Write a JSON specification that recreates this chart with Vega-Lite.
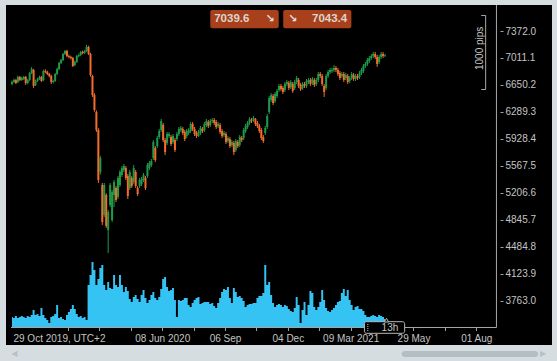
{
"$schema": "https://vega.github.io/schema/vega-lite/v6.json",
"width": 546, "height": 340,
"autosize": {"type": "none"},
"padding": {"left": 6, "top": 5, "right": 5, "bottom": 16},
"background": "#d6dde0",
"config": {"view": {"fill": "#000000", "stroke": null}, "axis": {"labelFont": "Liberation Sans", "labelFontSize": 10, "labelColor": "#c4c4c4", "grid": false, "domain": false, "tickColor": "#a0a0a0", "tickSize": 3}},
"datasets": {
"bars": [
{"i":0,"o":6662,"h":6710,"l":6645,"c":6689,"v":5000},
{"i":1,"o":6689,"h":6735,"l":6675,"c":6716,"v":4500},
{"i":2,"o":6716,"h":6730,"l":6660,"c":6676,"v":5500},
{"i":3,"o":6689,"h":6775,"l":6675,"c":6756,"v":4500},
{"i":4,"o":6756,"h":6770,"l":6700,"c":6716,"v":5000},
{"i":5,"o":6716,"h":6760,"l":6705,"c":6743,"v":5500},
{"i":6,"o":6729,"h":6770,"l":6715,"c":6756,"v":5000},
{"i":7,"o":6756,"h":6770,"l":6650,"c":6676,"v":4500},
{"i":8,"o":6676,"h":6730,"l":6660,"c":6716,"v":5500},
{"i":9,"o":6716,"h":6825,"l":6700,"c":6810,"v":5000},
{"i":10,"o":6810,"h":6890,"l":6795,"c":6863,"v":6000},
{"i":11,"o":6850,"h":6865,"l":6609,"c":6636,"v":8500},
{"i":12,"o":6649,"h":6720,"l":6635,"c":6703,"v":6000},
{"i":13,"o":6703,"h":6745,"l":6690,"c":6729,"v":6500},
{"i":14,"o":6729,"h":6775,"l":6715,"c":6756,"v":5500},
{"i":15,"o":6756,"h":6770,"l":6690,"c":6703,"v":9500},
{"i":16,"o":6716,"h":6855,"l":6700,"c":6836,"v":6000},
{"i":17,"o":6836,"h":6860,"l":6805,"c":6823,"v":4500},
{"i":18,"o":6823,"h":6840,"l":6780,"c":6796,"v":3500},
{"i":19,"o":6796,"h":6810,"l":6750,"c":6769,"v":2000},
{"i":20,"o":6769,"h":6785,"l":6662,"c":6689,"v":5000},
{"i":21,"o":6689,"h":6720,"l":6670,"c":6703,"v":5500},
{"i":22,"o":6703,"h":6810,"l":6690,"c":6796,"v":6500},
{"i":23,"o":6796,"h":6880,"l":6780,"c":6863,"v":11000},
{"i":24,"o":6863,"h":6960,"l":6850,"c":6944,"v":4500},
{"i":25,"o":6944,"h":7000,"l":6930,"c":6984,"v":5000},
{"i":26,"o":6984,"h":7080,"l":6970,"c":7064,"v":4000},
{"i":27,"o":7064,"h":7118,"l":7050,"c":7104,"v":3500},
{"i":28,"o":7104,"h":7120,"l":7020,"c":7037,"v":6000},
{"i":29,"o":7037,"h":7055,"l":7005,"c":7024,"v":7500},
{"i":30,"o":7024,"h":7040,"l":6990,"c":7010,"v":9000},
{"i":31,"o":7010,"h":7025,"l":6890,"c":6903,"v":11000},
{"i":32,"o":6917,"h":6975,"l":6900,"c":6957,"v":9000},
{"i":33,"o":6957,"h":7050,"l":6945,"c":7037,"v":6500},
{"i":34,"o":7037,"h":7070,"l":7020,"c":7051,"v":5000},
{"i":35,"o":7051,"h":7105,"l":7035,"c":7091,"v":5500},
{"i":36,"o":7091,"h":7110,"l":7060,"c":7077,"v":4500},
{"i":37,"o":7077,"h":7120,"l":7065,"c":7104,"v":5000},
{"i":38,"o":7104,"h":7185,"l":7090,"c":7158,"v":3500},
{"i":39,"o":7158,"h":7175,"l":7050,"c":7064,"v":21000},
{"i":40,"o":7064,"h":7080,"l":6760,"c":6783,"v":26000},
{"i":41,"o":6769,"h":6785,"l":6488,"c":6515,"v":32500},
{"i":42,"o":6515,"h":6540,"l":6290,"c":6314,"v":28500},
{"i":43,"o":6287,"h":6310,"l":6020,"c":6046,"v":21000},
{"i":44,"o":6046,"h":6070,"l":5337,"c":5377,"v":24000},
{"i":45,"o":5484,"h":5700,"l":5450,"c":5671,"v":29500},
{"i":46,"o":5310,"h":5337,"l":4774,"c":4814,"v":31000},
{"i":47,"o":4908,"h":5337,"l":4880,"c":5310,"v":21000},
{"i":48,"o":5176,"h":5200,"l":4734,"c":4761,"v":18500},
{"i":49,"o":4707,"h":4975,"l":4399,"c":4948,"v":22500},
{"i":50,"o":5042,"h":5337,"l":5015,"c":5310,"v":19500},
{"i":51,"o":4841,"h":5243,"l":4814,"c":5216,"v":19000},
{"i":52,"o":5176,"h":5377,"l":5015,"c":5350,"v":26000},
{"i":53,"o":5270,"h":5296,"l":5082,"c":5109,"v":21000},
{"i":54,"o":5149,"h":5430,"l":5122,"c":5404,"v":20000},
{"i":55,"o":5310,"h":5511,"l":5283,"c":5484,"v":26000},
{"i":56,"o":5444,"h":5564,"l":5417,"c":5537,"v":21000},
{"i":57,"o":5511,"h":5591,"l":5484,"c":5564,"v":17500},
{"i":58,"o":5537,"h":5564,"l":5377,"c":5404,"v":20000},
{"i":59,"o":5430,"h":5457,"l":5122,"c":5162,"v":18000},
{"i":60,"o":5270,"h":5511,"l":5243,"c":5484,"v":14000},
{"i":61,"o":5404,"h":5430,"l":5270,"c":5296,"v":12500},
{"i":62,"o":5350,"h":5577,"l":5323,"c":5537,"v":15000},
{"i":63,"o":5484,"h":5511,"l":5270,"c":5296,"v":16000},
{"i":64,"o":5270,"h":5296,"l":5162,"c":5189,"v":14000},
{"i":65,"o":5296,"h":5404,"l":5270,"c":5377,"v":12500},
{"i":66,"o":5323,"h":5417,"l":5296,"c":5390,"v":16000},
{"i":67,"o":5377,"h":5470,"l":5350,"c":5444,"v":18500},
{"i":68,"o":5404,"h":5430,"l":5243,"c":5270,"v":14500},
{"i":69,"o":5430,"h":5604,"l":5404,"c":5577,"v":12000},
{"i":70,"o":5537,"h":5631,"l":5511,"c":5604,"v":13500},
{"i":71,"o":5577,"h":5658,"l":5551,"c":5631,"v":16000},
{"i":72,"o":5671,"h":5912,"l":5644,"c":5886,"v":17500},
{"i":73,"o":5805,"h":5832,"l":5618,"c":5644,"v":14500},
{"i":74,"o":5832,"h":5966,"l":5805,"c":5939,"v":13500},
{"i":75,"o":5952,"h":6060,"l":5926,"c":6033,"v":15000},
{"i":76,"o":6046,"h":6194,"l":6020,"c":6167,"v":19000},
{"i":77,"o":6113,"h":6140,"l":5886,"c":5912,"v":24000},
{"i":78,"o":5912,"h":5939,"l":5711,"c":5752,"v":25000},
{"i":79,"o":5872,"h":6020,"l":5845,"c":5993,"v":20000},
{"i":80,"o":5966,"h":6019,"l":5939,"c":5993,"v":18000},
{"i":81,"o":5952,"h":5979,"l":5832,"c":5859,"v":18500},
{"i":82,"o":5886,"h":5993,"l":5859,"c":5966,"v":19500},
{"i":83,"o":5912,"h":5939,"l":5752,"c":5778,"v":13500},
{"i":84,"o":5926,"h":6019,"l":5899,"c":5993,"v":5000},
{"i":85,"o":5993,"h":6087,"l":5966,"c":6060,"v":13500},
{"i":86,"o":6046,"h":6100,"l":6019,"c":6073,"v":13000},
{"i":87,"o":6060,"h":6087,"l":5979,"c":6006,"v":13500},
{"i":88,"o":6019,"h":6046,"l":5899,"c":5926,"v":14500},
{"i":89,"o":5966,"h":6060,"l":5939,"c":6033,"v":14500},
{"i":90,"o":6006,"h":6073,"l":5979,"c":6046,"v":11000},
{"i":91,"o":6033,"h":6153,"l":6006,"c":6127,"v":10000},
{"i":92,"o":6127,"h":6153,"l":6033,"c":6060,"v":12000},
{"i":93,"o":6060,"h":6087,"l":5966,"c":5993,"v":13500},
{"i":94,"o":6006,"h":6033,"l":5939,"c":5966,"v":14500},
{"i":95,"o":5966,"h":6046,"l":5952,"c":6019,"v":15000},
{"i":96,"o":6006,"h":6100,"l":5979,"c":6073,"v":11500},
{"i":97,"o":6060,"h":6087,"l":6006,"c":6033,"v":12000},
{"i":98,"o":6046,"h":6153,"l":6019,"c":6127,"v":12500},
{"i":99,"o":6113,"h":6194,"l":6087,"c":6167,"v":12500},
{"i":100,"o":6153,"h":6180,"l":6073,"c":6100,"v":12500},
{"i":101,"o":6113,"h":6194,"l":6087,"c":6167,"v":11500},
{"i":102,"o":6167,"h":6207,"l":6140,"c":6180,"v":12000},
{"i":103,"o":6180,"h":6207,"l":6113,"c":6140,"v":10500},
{"i":104,"o":6153,"h":6180,"l":6060,"c":6087,"v":9500},
{"i":105,"o":6100,"h":6153,"l":6073,"c":6127,"v":12000},
{"i":106,"o":6113,"h":6140,"l":5993,"c":6019,"v":14500},
{"i":107,"o":6033,"h":6060,"l":5939,"c":5966,"v":17500},
{"i":108,"o":5979,"h":6033,"l":5952,"c":6006,"v":19000},
{"i":109,"o":5993,"h":6019,"l":5859,"c":5886,"v":18500},
{"i":110,"o":5899,"h":5966,"l":5872,"c":5939,"v":20000},
{"i":111,"o":5926,"h":5952,"l":5805,"c":5832,"v":14500},
{"i":112,"o":5845,"h":5912,"l":5819,"c":5886,"v":12000},
{"i":113,"o":5872,"h":5899,"l":5711,"c":5752,"v":19500},
{"i":114,"o":5778,"h":5926,"l":5752,"c":5899,"v":17500},
{"i":115,"o":5886,"h":5912,"l":5805,"c":5832,"v":15000},
{"i":116,"o":5845,"h":5979,"l":5819,"c":5952,"v":15500},
{"i":117,"o":5939,"h":5966,"l":5886,"c":5912,"v":14500},
{"i":118,"o":5939,"h":6073,"l":5912,"c":6046,"v":13000},
{"i":119,"o":6033,"h":6127,"l":6006,"c":6100,"v":10000},
{"i":120,"o":6087,"h":6167,"l":6060,"c":6140,"v":11000},
{"i":121,"o":6140,"h":6220,"l":6113,"c":6194,"v":11500},
{"i":122,"o":6180,"h":6207,"l":6140,"c":6167,"v":11500},
{"i":123,"o":6180,"h":6234,"l":6153,"c":6207,"v":12000},
{"i":124,"o":6194,"h":6207,"l":6100,"c":6127,"v":12000},
{"i":125,"o":6140,"h":6167,"l":6073,"c":6100,"v":14500},
{"i":126,"o":6100,"h":6127,"l":6006,"c":6033,"v":15500},
{"i":127,"o":6046,"h":6073,"l":5912,"c":5939,"v":15500},
{"i":128,"o":5952,"h":5979,"l":5872,"c":5899,"v":17000},
{"i":129,"o":6006,"h":6100,"l":5979,"c":6073,"v":31000},
{"i":130,"o":6087,"h":6261,"l":6060,"c":6234,"v":21000},
{"i":131,"o":6287,"h":6502,"l":6261,"c":6475,"v":22500},
{"i":132,"o":6448,"h":6542,"l":6421,"c":6515,"v":16000},
{"i":133,"o":6502,"h":6528,"l":6381,"c":6408,"v":12000},
{"i":134,"o":6435,"h":6555,"l":6408,"c":6528,"v":10000},
{"i":135,"o":6502,"h":6595,"l":6475,"c":6569,"v":11000},
{"i":136,"o":6582,"h":6662,"l":6555,"c":6636,"v":11500},
{"i":137,"o":6636,"h":6662,"l":6569,"c":6595,"v":11000},
{"i":138,"o":6609,"h":6636,"l":6528,"c":6555,"v":10000},
{"i":139,"o":6582,"h":6689,"l":6555,"c":6662,"v":11000},
{"i":140,"o":6662,"h":6716,"l":6636,"c":6689,"v":10500},
{"i":141,"o":6676,"h":6703,"l":6582,"c":6609,"v":9000},
{"i":142,"o":6622,"h":6716,"l":6595,"c":6689,"v":8000},
{"i":143,"o":6662,"h":6689,"l":6542,"c":6569,"v":7500},
{"i":144,"o":6609,"h":6716,"l":6582,"c":6689,"v":9500},
{"i":145,"o":6689,"h":6769,"l":6662,"c":6743,"v":15000},
{"i":146,"o":6716,"h":6743,"l":6609,"c":6636,"v":11000},
{"i":147,"o":6649,"h":6676,"l":6569,"c":6595,"v":2000},
{"i":148,"o":6609,"h":6689,"l":6582,"c":6662,"v":8500},
{"i":149,"o":6662,"h":6689,"l":6609,"c":6636,"v":12500},
{"i":150,"o":6636,"h":6729,"l":6609,"c":6703,"v":6000},
{"i":151,"o":6689,"h":6743,"l":6662,"c":6716,"v":11000},
{"i":152,"o":6716,"h":6743,"l":6636,"c":6662,"v":18000},
{"i":153,"o":6676,"h":6756,"l":6649,"c":6729,"v":17000},
{"i":154,"o":6716,"h":6743,"l":6622,"c":6649,"v":10000},
{"i":155,"o":6662,"h":6743,"l":6636,"c":6716,"v":8500},
{"i":156,"o":6716,"h":6823,"l":6689,"c":6796,"v":10000},
{"i":157,"o":6796,"h":6823,"l":6743,"c":6769,"v":12500},
{"i":158,"o":6769,"h":6796,"l":6636,"c":6662,"v":18500},
{"i":159,"o":6636,"h":6662,"l":6488,"c":6555,"v":13500},
{"i":160,"o":6609,"h":6796,"l":6582,"c":6769,"v":9500},
{"i":161,"o":6769,"h":6850,"l":6743,"c":6823,"v":8000},
{"i":162,"o":6823,"h":6877,"l":6796,"c":6850,"v":7500},
{"i":163,"o":6836,"h":6877,"l":6810,"c":6850,"v":8500},
{"i":164,"o":6850,"h":6917,"l":6823,"c":6877,"v":9500},
{"i":165,"o":6877,"h":6903,"l":6823,"c":6850,"v":11000},
{"i":166,"o":6850,"h":6877,"l":6769,"c":6796,"v":12500},
{"i":167,"o":6810,"h":6836,"l":6716,"c":6743,"v":13000},
{"i":168,"o":6769,"h":6823,"l":6743,"c":6796,"v":17000},
{"i":169,"o":6796,"h":6823,"l":6689,"c":6716,"v":19000},
{"i":170,"o":6743,"h":6810,"l":6716,"c":6783,"v":15500},
{"i":171,"o":6769,"h":6796,"l":6662,"c":6689,"v":18500},
{"i":172,"o":6703,"h":6769,"l":6676,"c":6743,"v":13500},
{"i":173,"o":6743,"h":6823,"l":6716,"c":6796,"v":11000},
{"i":174,"o":6783,"h":6810,"l":6703,"c":6729,"v":8500},
{"i":175,"o":6729,"h":6796,"l":6703,"c":6769,"v":10000},
{"i":176,"o":6769,"h":6796,"l":6716,"c":6743,"v":10500},
{"i":177,"o":6756,"h":6836,"l":6729,"c":6810,"v":9000},
{"i":178,"o":6810,"h":6877,"l":6783,"c":6850,"v":9000},
{"i":179,"o":6836,"h":6930,"l":6810,"c":6903,"v":8000},
{"i":180,"o":6903,"h":6957,"l":6877,"c":6930,"v":6000},
{"i":181,"o":6930,"h":7010,"l":6903,"c":6984,"v":5000},
{"i":182,"o":6970,"h":7037,"l":6944,"c":7010,"v":5000},
{"i":183,"o":7010,"h":7064,"l":6984,"c":7037,"v":5500},
{"i":184,"o":7037,"h":7091,"l":7010,"c":7064,"v":6000},
{"i":185,"o":7064,"h":7091,"l":6997,"c":7024,"v":5500},
{"i":186,"o":7024,"h":7051,"l":6890,"c":6930,"v":5000},
{"i":187,"o":6957,"h":7051,"l":6930,"c":7024,"v":6000},
{"i":188,"o":7024,"h":7091,"l":6997,"c":7064,"v":5500},
{"i":189,"o":7064,"h":7091,"l":7010,"c":7037,"v":5000},
{"i":190,"o":7037,"h":7064,"l":7024,"c":7043.4,"v":4000}
]
},
"layer": [
{
"data": {"name": "bars"},
"mark": {"type": "area", "interpolate": "step", "color": "#35c3f3", "opacity": 1},
"encoding": {
"x": {"field": "i", "type": "quantitative", "title": null, "scale": {"domain": [-0.5, 272.5], "nice": false, "zero": false},
"axis": {"orient": "bottom", "offset": -17.5, "tickCount": 40, "values": [0.5, 28.5, 44.5, 60.5, 76.5, 92.5, 108.5, 124.5, 140.5, 156.5, 172.5, 188.5, 204.5, 220.5, 236.5],
"labelExpr": "datum.value == 0.5 ? '29 Oct 2019, UTC+2' : datum.value == 76.5 ? '08 Jun 2020' : datum.value == 108.5 ? '06 Sep' : datum.value == 140.5 ? '04 Dec' : datum.value == 172.5 ? '09 Mar 2021' : datum.value == 204.5 ? '29 May' : datum.value == 236.5 ? '01 Aug' : ''",
"labelOverlap": false, "labelFlush": false, "labelBound": false, "labelPadding": 2.5,
"labelAlign": {"condition": {"test": "datum.value < 1", "value": "left"}, "value": "center"},
"tickOpacity": {"condition": {"test": "datum.value < 1", "value": 0}, "value": 1}}},
"y": {"field": "v", "type": "quantitative", "title": null, "scale": {"domain": [-9000, 161000], "nice": false}, "axis": null}
}
},
{
"layer": [
{
"data": {"name": "bars"},
"mark": {"type": "rule", "strokeWidth": 1},
"encoding": {
"x": {"field": "i", "type": "quantitative", "title": null, "scale": {"domain": [-0.5, 272.5], "nice": false, "zero": false}},
"y": {"field": "l", "type": "quantitative", "title": null, "scale": {"domain": [3167.55, 7720.15], "nice": false, "zero": false},
"axis": {"orient": "right", "offset": -52, "tickCount": 40, "values": [3763.0, 4123.9, 4484.8, 4845.7, 5206.6, 5567.5, 5928.4, 6289.3, 6650.2, 7011.1, 7372.0], "format": ".1f", "labelPadding": 2, "labelOverlap": false, "labelBound": false, "labelFlush": false}},
"y2": {"field": "h"},
"color": {"condition": {"test": "datum.c >= datum.o", "value": "#1e9a4a"}, "value": "#f36c2a"}
}
},
{
"data": {"name": "bars"},
"mark": {"type": "bar", "size": 2},
"encoding": {
"x": {"field": "i", "type": "quantitative", "title": null},
"y": {"field": "o", "type": "quantitative", "title": null},
"y2": {"field": "c"},
"color": {"condition": {"test": "datum.c >= datum.o", "value": "#1e9a4a"}, "value": "#f36c2a"}
}
},
{
"data": {"values": [
{"x1": 246.75, "x2": 246.75, "p1": 7720.15, "p2": 3401.9},
{"x1": -0.5, "x2": 246.75, "p1": 3401.9, "p2": 3401.9},
{"x1": 241.25, "x2": 241.25, "p1": 7579.6, "p2": 6588.7},
{"x1": 239.0, "x2": 241.25, "p1": 7579.6, "p2": 7579.6},
{"x1": 239.0, "x2": 241.25, "p1": 6588.7, "p2": 6588.7}
]},
"mark": {"type": "rule", "color": "#a8a8a8", "strokeWidth": 1},
"encoding": {
"x": {"field": "x1", "type": "quantitative", "title": null},
"x2": {"field": "x2"},
"y": {"field": "p1", "type": "quantitative", "title": null},
"y2": {"field": "p2"}
}
},
{
"data": {"values": [
{"x1": 101, "x2": 135.85, "p1": 7653, "p2": 7408},
{"x1": 138.15, "x2": 172.85, "p1": 7653, "p2": 7408}
]},
"mark": {"type": "rect", "color": "#a8401c", "cornerRadius": 2},
"encoding": {
"x": {"field": "x1", "type": "quantitative", "title": null},
"x2": {"field": "x2"},
"y": {"field": "p1", "type": "quantitative", "title": null},
"y2": {"field": "p2"}
}
},
{
"data": {"values": [
{"x1": 179.5, "x2": 200, "p1": 3479.5, "p2": 3324.2}
]},
"mark": {"type": "rect", "fill": "#000000", "stroke": "#b8b8b8", "strokeWidth": 1, "cornerRadius": 2},
"encoding": {
"x": {"field": "x1", "type": "quantitative", "title": null},
"x2": {"field": "x2"},
"y": {"field": "p1", "type": "quantitative", "title": null},
"y2": {"field": "p2"}
}
},
{
"data": {"values": [
{"x1": 181.25, "p1": 3448.7, "p2": 3355}
]},
"mark": {"type": "rule", "color": "#c0c0c0", "strokeWidth": 1, "strokeDash": [1, 1]},
"encoding": {
"x": {"field": "x1", "type": "quantitative", "title": null},
"y": {"field": "p1", "type": "quantitative", "title": null},
"y2": {"field": "p2"}
}
},
{
"data": {"values": [
{"x1": 190.75, "p1": 3500}
]},
"mark": {"type": "point", "shape": "triangle-up", "size": 18, "filled": true, "fill": "#000000", "stroke": "#b8b8b8", "strokeWidth": 1, "opacity": 1},
"encoding": {
"x": {"field": "x1", "type": "quantitative", "title": null},
"y": {"field": "p1", "type": "quantitative", "title": null}
}
},
{
"data": {"values": [
{"x1": 198.5, "x2": 268, "p1": 3087.2, "p2": 3006.9}
]},
"mark": {"type": "rect", "color": "#b3bec3", "cornerRadius": 3},
"encoding": {
"x": {"field": "x1", "type": "quantitative", "title": null},
"x2": {"field": "x2"},
"y": {"field": "p1", "type": "quantitative", "title": null},
"y2": {"field": "p2"}
}
},
{
"data": {"values": [
{"x1": 270.5, "p1": 3047, "t": "▶"},
{"x1": 1.25, "p1": 3047, "t": "◀"}
]},
"mark": {"type": "text", "font": "DejaVu Sans", "fontSize": 8, "color": "#b8c2c6", "align": "center", "baseline": "middle"},
"encoding": {
"x": {"field": "x1", "type": "quantitative", "title": null},
"y": {"field": "p1", "type": "quantitative", "title": null},
"text": {"field": "t"}
}
},
{
"data": {"values": [
{"x1": 103, "p1": 7533, "t": "7039.6"}
]},
"mark": {"type": "text", "font": "Liberation Sans", "fontSize": 11.5, "fontWeight": "bold", "color": "#dcd4ce", "align": "left", "baseline": "middle"},
"encoding": {
"x": {"field": "x1", "type": "quantitative", "title": null},
"y": {"field": "p1", "type": "quantitative", "title": null},
"text": {"field": "t"}
}
},
{
"data": {"values": [
{"x1": 170.75, "p1": 7533, "t": "7043.4"}
]},
"mark": {"type": "text", "font": "Liberation Sans", "fontSize": 11.5, "fontWeight": "bold", "color": "#dcd4ce", "align": "right", "baseline": "middle"},
"encoding": {
"x": {"field": "x1", "type": "quantitative", "title": null},
"y": {"field": "p1", "type": "quantitative", "title": null},
"text": {"field": "t"}
}
},
{
"data": {"values": [
{"x1": 131.5, "p1": 7533, "t": "↘"},
{"x1": 143, "p1": 7533, "t": "↘"}
]},
"mark": {"type": "text", "font": "DejaVu Sans", "fontSize": 11, "fontWeight": "bold", "color": "#e6e0dc", "align": "center", "baseline": "middle"},
"encoding": {
"x": {"field": "x1", "type": "quantitative", "title": null},
"y": {"field": "p1", "type": "quantitative", "title": null},
"text": {"field": "t"}
}
},
{
"data": {"values": [
{"x1": 238.2, "p1": 7140, "t": "1000 pips"}
]},
"mark": {"type": "text", "font": "Liberation Sans", "fontSize": 10, "color": "#c4c4c4", "align": "center", "baseline": "middle", "angle": 270},
"encoding": {
"x": {"field": "x1", "type": "quantitative", "title": null},
"y": {"field": "p1", "type": "quantitative", "title": null},
"text": {"field": "t"}
}
},
{
"data": {"values": [
{"x1": 192.5, "p1": 3398, "t": "13h"}
]},
"mark": {"type": "text", "font": "Liberation Sans", "fontSize": 10, "color": "#c4c4c4", "align": "center", "baseline": "middle"},
"encoding": {
"x": {"field": "x1", "type": "quantitative", "title": null},
"y": {"field": "p1", "type": "quantitative", "title": null},
"text": {"field": "t"}
}
}
]
}
],
"resolve": {"scale": {"y": "independent"}}
}
